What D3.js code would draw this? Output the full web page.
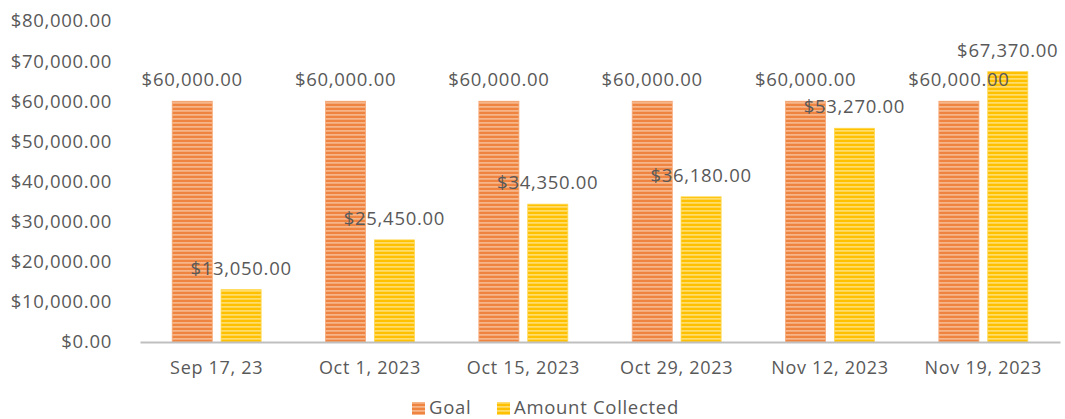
<!DOCTYPE html>
<html>
<head>
<meta charset="utf-8">
<script src="https://cdn.jsdelivr.net/npm/d3@7"></script>
<style>
  html, body { margin: 0; padding: 0; background: #fff; }
  svg { display: block; font-family: "Open Sans", "Noto Sans", sans-serif; }
</style>
</head>
<body>
<svg id="chart" width="1065" height="419"></svg>
<script>
const categories = ["Sep 17, 23", "Oct 1, 2023", "Oct 15, 2023", "Oct 29, 2023", "Nov 12, 2023", "Nov 19, 2023"];
const seriesNames = ["Goal", "Amount Collected"];
const goalValues = [60000, 60000, 60000, 60000, 60000, 60000];
const amountValues = [13050, 25450, 34350, 36180, 53270, 67370];
const yTicks = [0, 10000, 20000, 30000, 40000, 50000, 60000, 70000, 80000];

const svg = d3.select("#chart");
const textColor = "#595959";
const fontSize = "18.5px";
const spacing = "0.7px";
const fmt = v => "$" + d3.format(",.2f")(v);

// patterns
const defs = svg.append("defs");
function stripe(id, base, light) {
  const p = defs.append("pattern").attr("id", id).attr("patternUnits", "userSpaceOnUse")
    .attr("width", 8).attr("height", 4);
  p.append("rect").attr("width", 8).attr("height", 4).attr("fill", base);
  p.append("rect").attr("y", 2.2).attr("width", 8).attr("height", 1.4).attr("fill", light);
}
stripe("pGoal", "#EF8440", "#F8C29C");
stripe("pAmt", "#FFC000", "#FFE488");
const fills = ["url(#pGoal)", "url(#pAmt)"];
const edge = ["#F5A877", "#FFD750"];

const y = d3.scaleLinear().domain([0, 80000]).range([342, 21]);
const x0 = d3.scaleBand().domain(categories).range([140, 1060]).paddingInner(0.42).paddingOuter(0.21);
const x1 = d3.scaleBand().domain(seriesNames).range([0, x0.bandwidth()]).paddingInner(0.18);

// y axis labels
const yAxis = d3.axisLeft(y).tickValues(yTicks).tickFormat(fmt).tickSize(0).tickPadding(0);
const yg = svg.append("g").attr("transform", "translate(112,0)").call(yAxis);
yg.select(".domain").remove();
yg.selectAll("text").attr("fill", textColor).style("font-size", fontSize)
  .style("letter-spacing", spacing).style("font-family", "'Open Sans', sans-serif");

const data = categories.map((c, i) => ({ cat: c, vals: [goalValues[i], amountValues[i]] }));

const groups = svg.append("g").selectAll("g").data(data).join("g")
  .attr("transform", d => `translate(${x0(d.cat)},0)`);

groups.selectAll("rect").data(d => d.vals.map((v, j) => ({ v, s: seriesNames[j], j }))).join("rect")
  .attr("x", d => x1(d.s))
  .attr("y", d => y(d.v))
  .attr("width", x1.bandwidth())
  .attr("height", d => y(0) - y(d.v))
  .attr("fill", d => fills[d.j])
  .attr("stroke", d => edge[d.j])
  .attr("stroke-width", 0.8);

groups.selectAll("text").data(d => d.vals.map((v, j) => ({ v, s: seriesNames[j], j }))).join("text")
  .attr("x", d => x1(d.s) + x1.bandwidth() / 2)
  .attr("y", d => y(d.v) - 15)
  .attr("text-anchor", "middle")
  .attr("fill", textColor)
  .style("font-size", fontSize)
  .style("letter-spacing", spacing)
  .text(d => fmt(d.v));

// x axis
const xAxis = d3.axisBottom(x0).tickSize(0).tickPadding(0);
const xg = svg.append("g").attr("transform", "translate(0,342)").call(xAxis);
xg.select(".domain").attr("stroke", "#BFBFBF").attr("stroke-width", 2.2);
xg.selectAll("text").attr("fill", textColor).attr("dy", null).attr("y", 32)
  .style("font-size", "18px").style("letter-spacing", spacing)
  .style("font-family", "'Open Sans', sans-serif");

// legend
const legend = svg.append("g");
const legendItems = [{ name: seriesNames[0], x: 412 }, { name: seriesNames[1], x: 497 }];
legendItems.forEach((it, j) => {
  legend.append("rect").attr("x", it.x).attr("y", 402).attr("width", 13).attr("height", 13)
    .attr("fill", fills[j]);
  legend.append("text").attr("x", it.x + 17).attr("y", 414).attr("fill", textColor)
    .style("font-size", fontSize).style("letter-spacing", spacing).text(it.name);
});
</script>
</body>
</html>
